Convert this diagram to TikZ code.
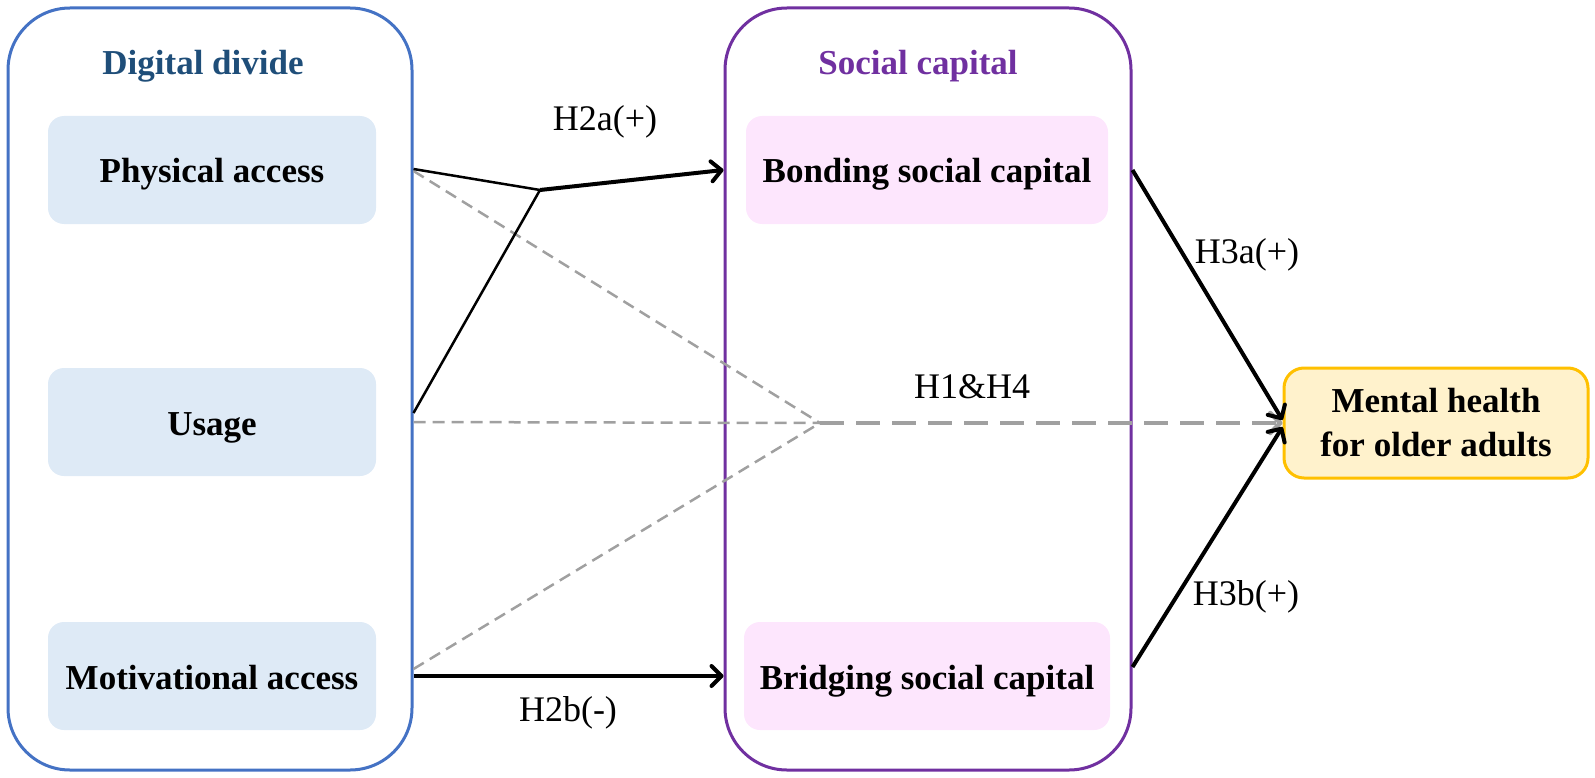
\documentclass[tikz,border=0pt]{standalone}
\usepackage{fontspec}
\setmainfont{Liberation Serif}
\usetikzlibrary{arrows.meta,calc}
\definecolor{ddblue}{HTML}{4472C4}
\definecolor{ddtitle}{HTML}{1F4E79}
\definecolor{scpurple}{HTML}{7030A0}
\definecolor{ddfill}{HTML}{DEEAF6}
\definecolor{scfill}{HTML}{FDE6FD}
\definecolor{mhfill}{HTML}{FFF2CC}
\definecolor{mhborder}{HTML}{FFC000}
\definecolor{dashgrey}{HTML}{A0A0A0}
\tikzset{
  outerbox/.style={draw, line width=3pt, rounded corners=62pt, minimum height=762pt, inner sep=0pt},
  innerbox/.style={font=\fontsize{35}{44}\selectfont\bfseries, rounded corners=16pt, minimum height=108pt, inner sep=0pt},
  onerow/.style={text height=26pt, text depth=0pt},
  titletext/.style={font=\fontsize{35}{44}\selectfont\bfseries, anchor=base, inner sep=0pt},
  lbl/.style={font=\fontsize{36}{44}\selectfont, inner sep=0pt},
  thinline/.style={line width=2.5pt, black},
  thickarrow/.style={line width=4pt, black, -{Straight Barb[length=10pt,width=20pt,round]}},
  thindash/.style={line width=2.5pt, dashgrey, dash pattern=on 12pt off 7pt},
  thickdash/.style={line width=4.5pt, dashgrey, dash pattern=on 24pt off 12pt, -{Straight Barb[length=10pt,width=20pt,round]}},
}
\begin{document}
\begin{tikzpicture}[x=1pt,y=-1pt]
\useasboundingbox (0,0) rectangle (1595,778);
% outer frames
\node[outerbox, ddblue, minimum width=404pt] (dd) at (210,389) {};
\node[outerbox, scpurple, minimum width=406pt] (sc) at (928,389) {};
% titles
\node[titletext, text=ddtitle] (ddt) at (203,75) {Digital divide};
\node[titletext, text=scpurple] (sct) at (918,75) {Social capital};
% inner boxes
\node[innerbox, onerow, fill=ddfill, minimum width=328pt] (phys) at (212,170) {Physical access};
\node[innerbox, onerow, fill=ddfill, minimum width=328pt] (usage) at (212,422) {Usage};
\node[innerbox, onerow, fill=ddfill, minimum width=328pt] (motiv) at (212,676) {Motivational access};
\node[innerbox, onerow, fill=scfill, minimum width=362pt] (bond) at (927,170) {Bonding social capital};
\node[innerbox, onerow, fill=scfill, minimum width=366pt] (bridg) at (927,676) {Bridging social capital};
\node[innerbox, fill=mhfill, draw=mhborder, line width=3pt, minimum width=304pt, minimum height=110pt, rounded corners=20pt, align=center] (mh) at (1436,423) {Mental health\\for older adults};
% junction points
\coordinate (J) at (540,190);
\coordinate (C) at (820,423);
% dashed paths (H1 & H4)
\draw[thindash] ($(dd.east |- phys)+(0,1)$) -- (C);
\draw[thindash] (dd.east |- usage) -- (C);
\draw[thindash] ($(dd.east |- motiv)+(0,-7)$) -- (C);
\draw[thickdash] (C) -- (mh.west);
% H2a
\draw[thinline] ($(dd.east |- phys)+(0,-1)$) -- (J);
\draw[thinline] ($(dd.east |- usage)+(0,-9)$) -- (J);
\draw[thickarrow] (J) -- (sc.west |- bond);
% H2b
\draw[thickarrow] (dd.east |- motiv) -- (sc.west |- bridg);
% H3a, H3b
\draw[thickarrow] (sc.east |- bond) -- ($(mh.west)+(0,-3)$);
\draw[thickarrow] ($(sc.east |- bridg)+(0,-9)$) -- ($(mh.west)+(0,4)$);
% labels
\node[lbl] (l2a) at (605,122) {H2a(+)};
\node[lbl] (l2b) at (568,713) {H2b(-)};
\node[lbl] (l14) at (972,387) {H1\&H4};
\node[lbl] (l3a) at (1247,255) {H3a(+)};
\node[lbl] (l3b) at (1246,597) {H3b(+)};
\end{tikzpicture}
\end{document}
